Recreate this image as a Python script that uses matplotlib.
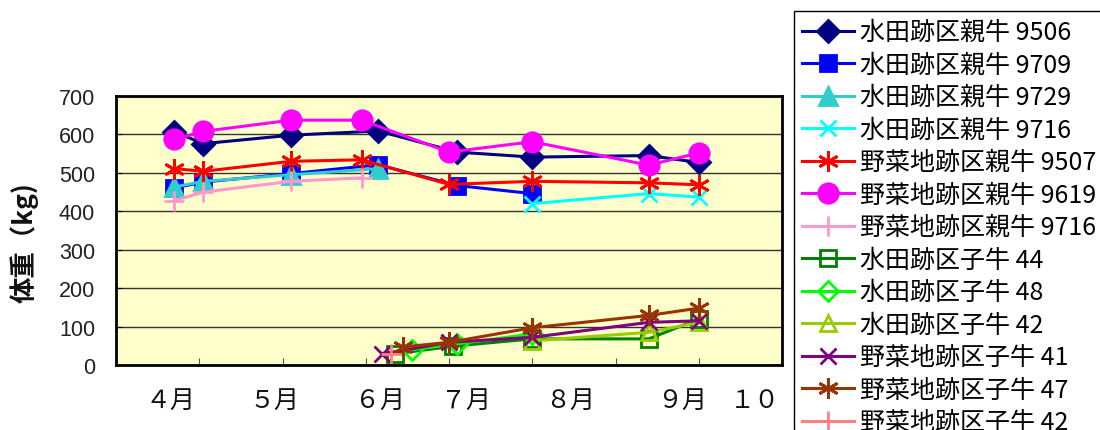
import matplotlib
matplotlib.use("Agg")
import matplotlib.pyplot as plt

plt.rcParams['font.family'] = ['Noto Sans CJK JP', 'DejaVu Sans']

# 日付（x軸上の日数、目盛り 20 日ごと）と体重 (kg)
x_9506 = [14, 21, 42, 63, 82, 100, 128, 140]
w_9506 = [607, 576, 598, 609, 554, 541, 545, 527]
x_9709 = [14, 21, 42, 63, 82, 100]
w_9709 = [461, 476, 498, 521, 467, 446]
x_9729 = [14, 21, 42, 63]
w_9729 = [463, 478, 495, 511]
x_9716a = [100, 128, 140]
w_9716a = [420, 446, 437]
x_9507 = [14, 21, 42, 59, 80, 100, 128, 140]
w_9507 = [511, 504, 530, 534, 470, 478, 474, 469]
x_9619 = [14, 21, 42, 59, 80, 100, 128, 140]
w_9619 = [587, 608, 637, 637, 554, 581, 520, 552]
x_9716b = [14, 21, 42, 59]
w_9716b = [428, 450, 478, 487]

x_c44 = [67, 81, 100, 128, 140]
w_c44 = [29, 49, 68, 68, 120]
x_c48 = [71, 82, 100]
w_c48 = [40, 55, 81]
x_c42a = [100, 128, 140]
w_c42a = [63, 85, 111]
x_c41 = [64, 80, 100, 128, 140]
w_c41 = [29, 59, 72, 111, 115]
x_c47 = [69, 80, 100, 128, 140]
w_c47 = [47, 59, 97, 129, 148]
x_c42b = [66]
w_c42b = [29]

month_labels = ['４月', '５月', '６月', '７月', '８月', '９月', '１０']
month_pos = [13, 38, 63.5, 84, 109, 136, 153.5]

AST = (6, 2, 0)  # Excel の「*」マーカー

series = [
    (x_9506, w_9506, '水田跡区親牛 9506', '#000080', 'D', 11, True),
    (x_9709, w_9709, '水田跡区親牛 9709', '#0000FF', 's', 12, True),
    (x_9729, w_9729, '水田跡区親牛 9729', '#33CCCC', '^', 13, True),
    (x_9716a, w_9716a, '水田跡区親牛 9716', '#00FFFF', 'x', 12, True),
    (x_9507, w_9507, '野菜地跡区親牛 9507', '#FF0000', AST, 15, True),
    (x_9619, w_9619, '野菜地跡区親牛 9619', '#FF00FF', 'o', 14, True),
    (x_9716b, w_9716b, '野菜地跡区親牛 9716', '#FF99CC', '+', 15, True),
    (x_c44, w_c44, '水田跡区子牛 44', '#008000', 's', 11, False),
    (x_c48, w_c48, '水田跡区子牛 48', '#00FF00', 'D', 10, False),
    (x_c42a, w_c42a, '水田跡区子牛 42', '#99CC00', '^', 12, False),
    (x_c41, w_c41, '野菜地跡区子牛 41', '#800080', 'x', 12, True),
    (x_c47, w_c47, '野菜地跡区子牛 47', '#993300', AST, 15, True),
    (x_c42b, w_c42b, '野菜地跡区子牛 42', '#FF8080', '+', 15, True),
]

fig = plt.figure(figsize=(11, 4.31), dpi=100)
ax = fig.add_axes([116 / 1100, 65 / 431, 666 / 1100, 269 / 431])
ax.set_facecolor('#FFFFCC')

for xs, ys, label, color, marker, ms, filled in series:
    ax.plot(xs, ys, color=color, lw=2.2, marker=marker, ms=ms,
            mfc=color if filled else 'none', mec=color, mew=2,
            label=label)

ax.set_xlim(0, 160)
ax.set_ylim(0, 700)
ax.set_xticks(range(20, 160, 20))
ax.set_xticklabels([])
ax.set_yticks(range(0, 701, 100))
ax.yaxis.grid(True, color='#333333', lw=1)
ax.set_axisbelow(True)
ax.tick_params(axis='x', direction='in', length=5, color='#555555')
ax.tick_params(axis='y', direction='in', length=4, pad=15,
               labelsize=15.5, labelcolor='#222222')
for lab in ax.get_yticklabels():
    lab.set_family('Liberation Sans')
for sp in ax.spines.values():
    sp.set_linewidth(2)
    sp.set_color('black')

for pos, lab in zip(month_pos, month_labels):
    ax.text(pos, -0.13, lab, transform=ax.get_xaxis_transform(),
            ha='center', va='center', fontsize=18, color='#111111')

fig.text(24 / 1100, 1 - 243 / 431, '体重（kg)', rotation=90, ha='center',
         va='center', fontsize=19, fontweight='bold', color='#111111')

fig.legend(loc='upper left', bbox_to_anchor=(794 / 1100, 1 - 12 / 431),
           fontsize=18, frameon=True, fancybox=False, edgecolor='black',
           framealpha=1, handlelength=2.05, handletextpad=0.25,
           labelspacing=0.26, borderpad=0.33, borderaxespad=0)

fig.savefig('out.png', dpi=100)
